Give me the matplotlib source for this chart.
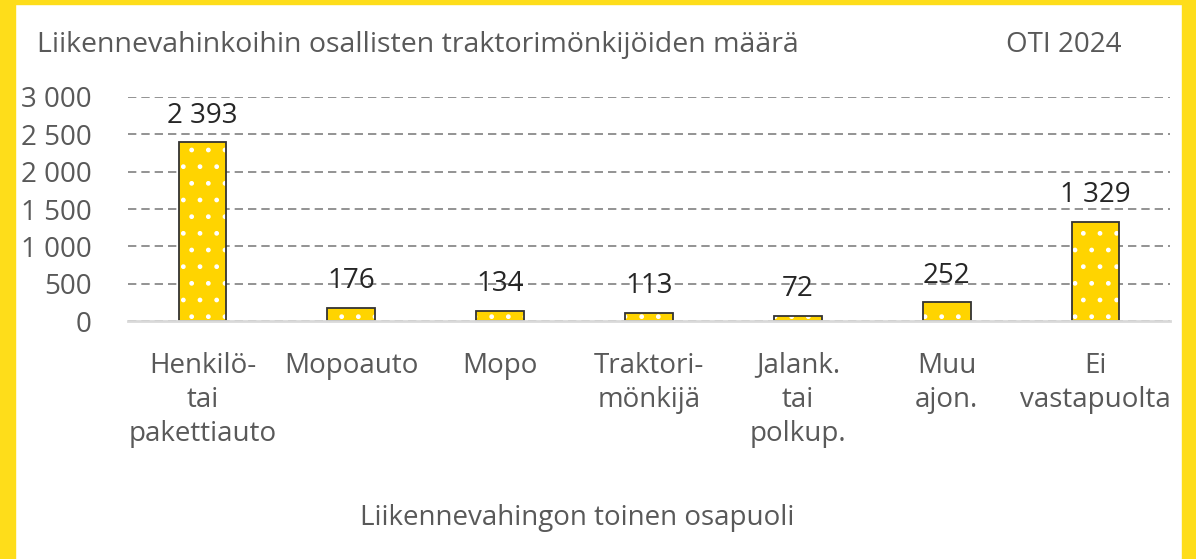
import matplotlib.pyplot as plt
from matplotlib.patches import Rectangle

plt.rcParams['font.family'] = ['Open Sans', 'DejaVu Sans']

categories = ["Henkilö-\ntai\npakettiauto", "Mopoauto", "Mopo", "Traktori-\nmönkijä",
              "Jalank.\ntai\npolkup.", "Muu\najon.", "Ei\nvastapuolta"]
values = [2393, 176, 134, 113, 72, 252, 1329]
y_ticks = [0, 500, 1000, 1500, 2000, 2500, 3000]

title = "Liikennevahinkoihin osallisten traktorimönkijöiden määrä"
source = "OTI 2024"
xlabel = "Liikennevahingon toinen osapuoli"

c_bar = "#FFD400"
c_frame = "#FEDD1A"
c_text = "#595959"
c_value = "#262626"
fs = 20

fig = plt.figure(figsize=(11.96, 5.59), dpi=100)
fig.patch.set_facecolor("white")

# yellow frame (left, top, right)
fig.patches.append(Rectangle((0, 0), 15 / 1196, 1, transform=fig.transFigure, color=c_frame, zorder=0))
fig.patches.append(Rectangle((0, 1 - 4 / 559), 1, 4 / 559, transform=fig.transFigure, color=c_frame, zorder=0))
fig.patches.append(Rectangle((1182 / 1196, 0), 14 / 1196, 1, transform=fig.transFigure, color=c_frame, zorder=0))

ax = fig.add_axes([128 / 1196, 1 - 321 / 559, 1042 / 1196, 224 / 559])
x = list(range(len(values)))

# dotted fill, then outline on top
ax.bar(x, values, width=0.32, color=c_bar, edgecolor="white", hatch=".", linewidth=0, zorder=3)
ax.bar(x, values, width=0.32, facecolor="none", edgecolor="#333333", linewidth=1.3, zorder=4)

for xi, v in zip(x, values):
    ax.annotate(f"{v:,}".replace(",", " "), (xi, v), textcoords="offset points", xytext=(0, 9),
                ha="center", va="bottom", fontsize=fs, color=c_value)

ax.set_xlim(-0.5, len(values) - 0.5)
ax.set_ylim(0, 3000)
ax.set_yticks(y_ticks)
ax.set_yticklabels([f"{t:,}".replace(",", " ") for t in y_ticks], fontsize=fs, color=c_text)
ax.set_xticks(x)
ax.set_xticklabels(categories, fontsize=fs, color=c_text, linespacing=1.3, va="top")
ax.tick_params(axis="y", length=0, pad=26)
ax.tick_params(axis="x", length=0, pad=22)

ax.yaxis.grid(True, color="#808080", linestyle=(0, (5, 3)), linewidth=1.2, zorder=1)
ax.set_axisbelow(True)
for s in ["top", "right", "left"]:
    ax.spines[s].set_visible(False)
ax.spines["bottom"].set_color("#D9D9D9")
ax.spines["bottom"].set_linewidth(2)
ax.spines["bottom"].set_zorder(5)

fig.text(37 / 1196, 1 - 45 / 559, title, fontsize=fs + 0.5, color=c_text, ha="left", va="center")
fig.text(1122 / 1196, 1 - 45 / 559, source, fontsize=fs, color=c_text, ha="right", va="center")
fig.text(577 / 1196, 1 - 518 / 559, xlabel, fontsize=fs, color=c_text, ha="center", va="center")

plt.savefig("out.png", dpi=100)
